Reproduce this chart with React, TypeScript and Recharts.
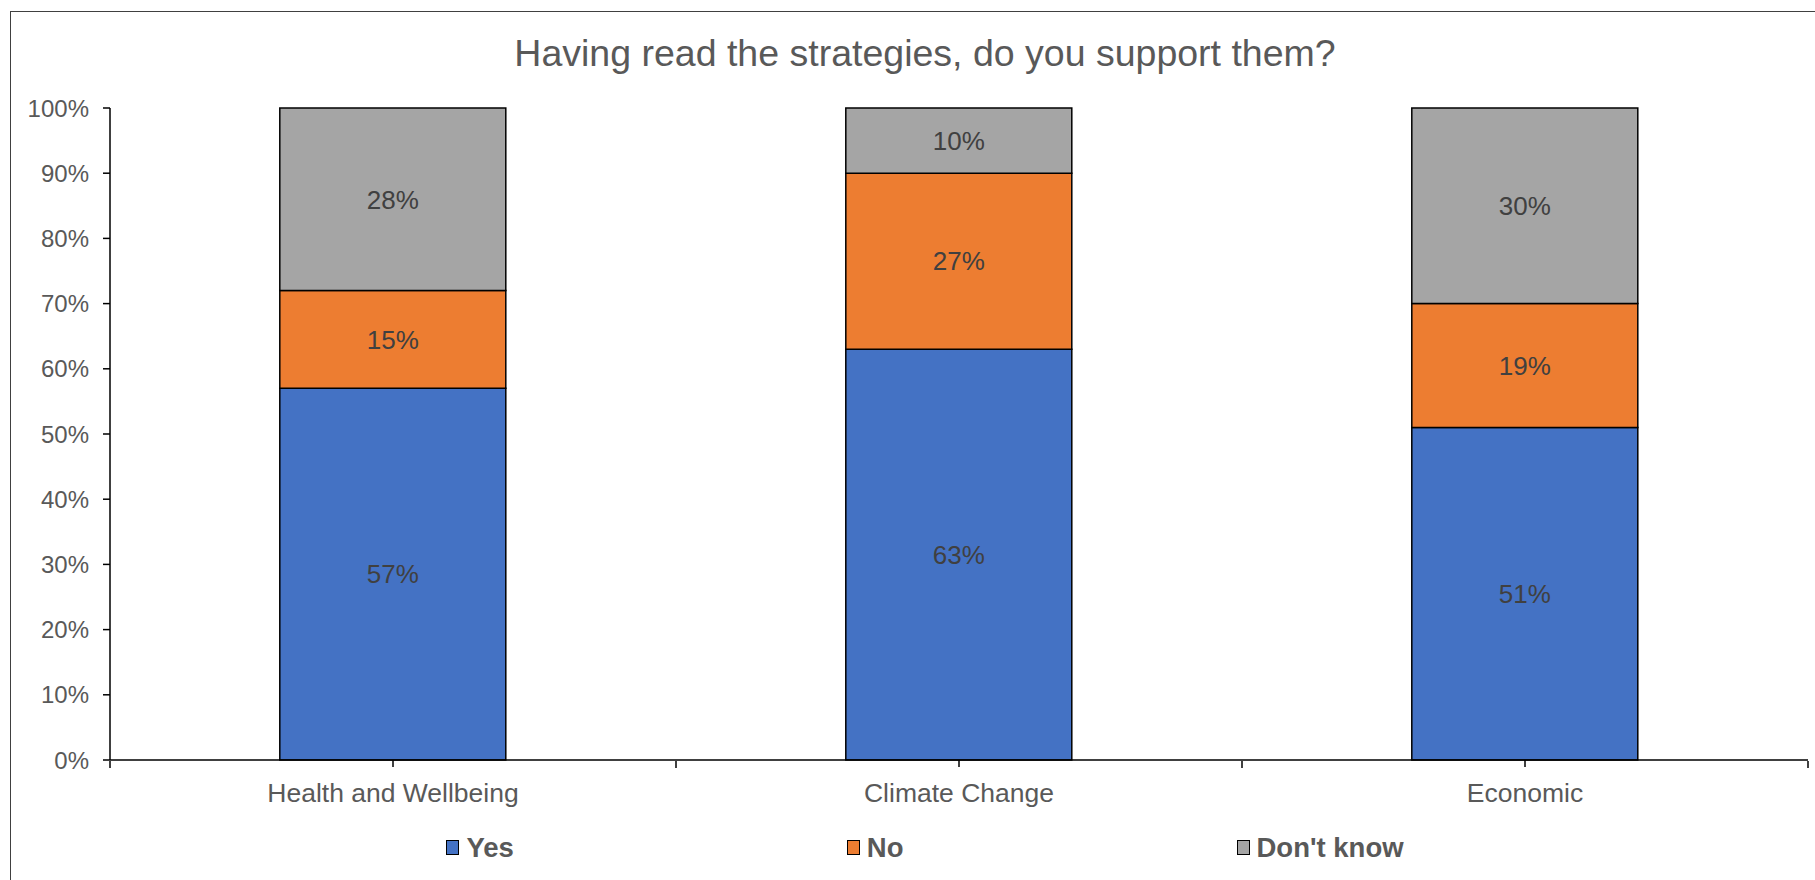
import React from 'react';
import { BarChart, Bar, XAxis, YAxis, LabelList } from 'recharts';

const categories = ['Health and Wellbeing', 'Climate Change', 'Economic'];
const yesValues = [57, 63, 51];
const noValues = [15, 27, 19];
const dontKnowValues = [28, 10, 30];
const seriesKeys = ['yes', 'no', 'dontKnow'];
const seriesNames = ['Yes', 'No', "Don't know"];
const seriesColors = ['#4472C4', '#ED7D31', '#A5A5A5'];
const yTicks = [0, 10, 20, 30, 40, 50, 60, 70, 80, 90, 100];
const edgeTicks = [0, 1, 2, 3];

const data = categories.map((name, i) => ({
    name,
    pos: i + 0.5,
    yes: yesValues[i],
    no: noValues[i],
    dontKnow: dontKnowValues[i],
}));

const FONT = '"Liberation Sans", Arial, sans-serif';

export default function App() {
    return (
        <div style={{
            position: 'absolute', left: 0, top: 0, width: 1815, height: 880,
            overflow: 'hidden', background: '#fff', fontFamily: FONT,
        }}>
            <div style={{
                position: 'absolute', left: 10, top: 11, width: 1900, height: 1000,
                border: '1.5px solid #404040', boxSizing: 'border-box',
            }} />
            <div style={{
                position: 'absolute', left: 0, width: 1850, top: 35, textAlign: 'center',
                fontSize: 37.5, lineHeight: '37.5px', color: '#595959',
            }}>
                Having read the strategies, do you support them?
            </div>
            <div style={{ position: 'absolute', left: 0, top: 0 }}>
                <BarChart
                    width={1815}
                    height={880}
                    data={data}
                    margin={{ top: 108, right: 7, bottom: 70, left: 0 }}
                    barCategoryGap="30%"
                >
                    <XAxis
                        dataKey="name"
                        height={1}
                        interval={0}
                        tickSize={7}
                        tickMargin={16}
                        axisLine={{ stroke: '#000', strokeWidth: 1.5 }}
                        tickLine={{ stroke: '#000', strokeWidth: 1.5 }}
                        tick={{ fill: '#595959', fontSize: 26.5, fontFamily: FONT }}
                    />
                    <XAxis
                        xAxisId="edges"
                        type="number"
                        dataKey="pos"
                        domain={[0, 3]}
                        ticks={edgeTicks}
                        interval={0}
                        height={49}
                        axisLine={false}
                        tickFormatter={() => ''}
                        tickSize={7}
                        tickLine={{ stroke: '#000', strokeWidth: 1.5 }}
                    />
                    <YAxis
                        width={110}
                        domain={[0, 100]}
                        ticks={yTicks}
                        interval={0}
                        tickFormatter={(v: number) => `${v}%`}
                        tickSize={7}
                        tickMargin={14}
                        axisLine={{ stroke: '#000', strokeWidth: 1.5 }}
                        tickLine={{ stroke: '#000', strokeWidth: 1.5 }}
                        tick={{ fill: '#595959', fontSize: 24, fontFamily: FONT }}
                    />
                    {seriesKeys.map((key, i) => (
                        <Bar
                            key={key}
                            dataKey={key}
                            name={seriesNames[i]}
                            stackId="a"
                            fill={seriesColors[i]}
                            stroke="#000"
                            strokeWidth={1.5}
                            isAnimationActive={false}
                        >
                            <LabelList
                                dataKey={key}
                                position="center"
                                formatter={(v: any) => `${v}%`}
                                fill="#404040"
                                fontSize={26}
                                fontFamily={FONT}
                            />
                        </Bar>
                    ))}
                </BarChart>
            </div>
            <div style={{
                position: 'absolute', left: 0, width: 1850, top: 834,
                display: 'flex', justifyContent: 'center', gap: 333,
            }}>
                {seriesNames.map((name, i) => (
                    <div key={name} style={{ display: 'flex', alignItems: 'center', gap: 7 }}>
                        <div style={{
                            width: 11, height: 13, background: seriesColors[i],
                            border: '1.5px solid #000',
                        }} />
                        <span style={{
                            fontSize: 27.5, lineHeight: '27.5px', fontWeight: 'bold', color: '#595959',
                        }}>{name}</span>
                    </div>
                ))}
            </div>
        </div>
    );
}
